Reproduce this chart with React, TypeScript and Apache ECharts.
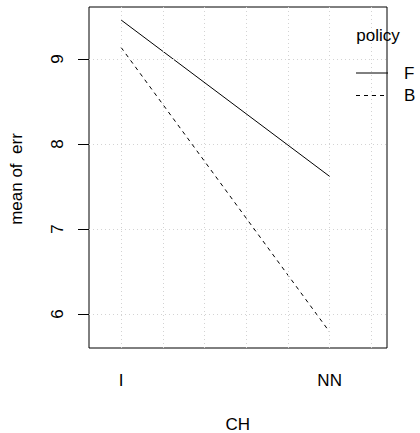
import React, { useEffect, useRef } from "react";
import * as echarts from "echarts";

const categories = ["I", "NN"];
const categoryPositions = [1, 2];
const policies = ["F", "B"];
const seriesF = [9.459, 7.619];
const seriesB = [9.136, 5.788];
const yTicks = [6, 7, 8, 9];
const xGrid = [1, 1.2, 1.4, 1.6, 1.8, 2.0, 2.2];
const xTitle = "CH";
const yTitle = "mean of  err";
const legendTitle = "policy";

const FONT = "'Liberation Sans', Arial, Helvetica, sans-serif";
const FS = 17;

export default function App() {
  const ref = useRef<HTMLDivElement>(null);
  useEffect(() => {
    if (!ref.current) return;
    const chart = echarts.init(ref.current, null, { renderer: "svg" });
    const gridStyle = { color: "#d3d3d3", width: 1, type: [1, 3] as any };
    const option: any = {
      animation: false,
      backgroundColor: "#ffffff",
      textStyle: { fontFamily: FONT },
      grid: {
        left: 89,
        top: 7,
        width: 298,
        height: 341,
        show: true,
        borderColor: "#000",
        borderWidth: 1,
        backgroundColor: "transparent",
      },
      xAxis: {
        type: "value",
        min: 0.846,
        max: 2.275,
        axisLine: { show: false },
        axisTick: { show: false },
        splitLine: { show: false },
        axisLabel: {
          customValues: categoryPositions,
          formatter: (v: number) => {
            const i = categoryPositions.indexOf(Math.round(v * 1000) / 1000);
            return i >= 0 ? categories[i] : "";
          },
          margin: 24,
          fontSize: FS,
          color: "#000",
          fontFamily: FONT,
        },
      },
      yAxis: {
        type: "value",
        min: 5.6,
        max: 9.612,
        axisLine: { show: false },
        axisTick: {
          show: true,
          customValues: yTicks,
          length: 11,
          lineStyle: { color: "#000", width: 1 },
        },
        splitLine: { show: false },
        axisLabel: {
          customValues: yTicks,
          rotate: 90,
          margin: 23,
          fontSize: FS,
          color: "#000",
          fontFamily: FONT,
        },
      },
      series: [
        {
          type: "line",
          name: "grid",
          data: [],
          silent: true,
          markLine: {
            silent: true,
            symbol: ["none", "none"],
            label: { show: false },
            lineStyle: gridStyle,
            emphasis: { disabled: true },
            data: [
              ...xGrid.map((x) => ({ xAxis: x })),
              ...yTicks.map((y) => ({ yAxis: y })),
            ],
          },
        },
        {
          type: "line",
          name: policies[0],
          data: categoryPositions.map((x, i) => [x, seriesF[i]]),
          symbol: "none",
          lineStyle: { color: "#000", width: 1, type: "solid" },
          itemStyle: { color: "#000" },
        },
        {
          type: "line",
          name: policies[1],
          data: categoryPositions.map((x, i) => [x, seriesB[i]]),
          symbol: "none",
          lineStyle: { color: "#000", width: 1, type: [4, 4] },
          itemStyle: { color: "#000" },
        },
      ],
      graphic: [
        {
          type: "text",
          x: 237.7,
          y: 424,
          style: { text: xTitle, font: `${FS}px ${FONT}`, fill: "#000", textAlign: "center", textVerticalAlign: "middle" },
        },
        {
          type: "text",
          x: 16,
          y: 179,
          rotation: Math.PI / 2,
          style: { text: yTitle, font: `${FS}px ${FONT}`, fill: "#000", textAlign: "center", textVerticalAlign: "middle" },
        },
        {
          type: "text",
          x: 378,
          y: 35,
          style: { text: legendTitle, font: `${FS}px ${FONT}`, fill: "#000", textAlign: "center", textVerticalAlign: "middle" },
        },
        {
          type: "line",
          shape: { x1: 356, y1: 73, x2: 388, y2: 73 },
          style: { stroke: "#000", lineWidth: 1 },
        },
        {
          type: "line",
          shape: { x1: 356, y1: 95.5, x2: 388, y2: 95.5 },
          style: { stroke: "#000", lineWidth: 1, lineDash: [4, 4] },
        },
        {
          type: "text",
          x: 404,
          y: 73,
          style: { text: policies[0], font: `${FS}px ${FONT}`, fill: "#000", textVerticalAlign: "middle" },
        },
        {
          type: "text",
          x: 404,
          y: 95.5,
          style: { text: policies[1], font: `${FS}px ${FONT}`, fill: "#000", textVerticalAlign: "middle" },
        },
      ],
    };
    chart.setOption(option);
    return () => chart.dispose();
  }, []);
  return <div ref={ref} style={{ width: 420, height: 433, position: "absolute", left: 0, top: 0 }} />;
}
